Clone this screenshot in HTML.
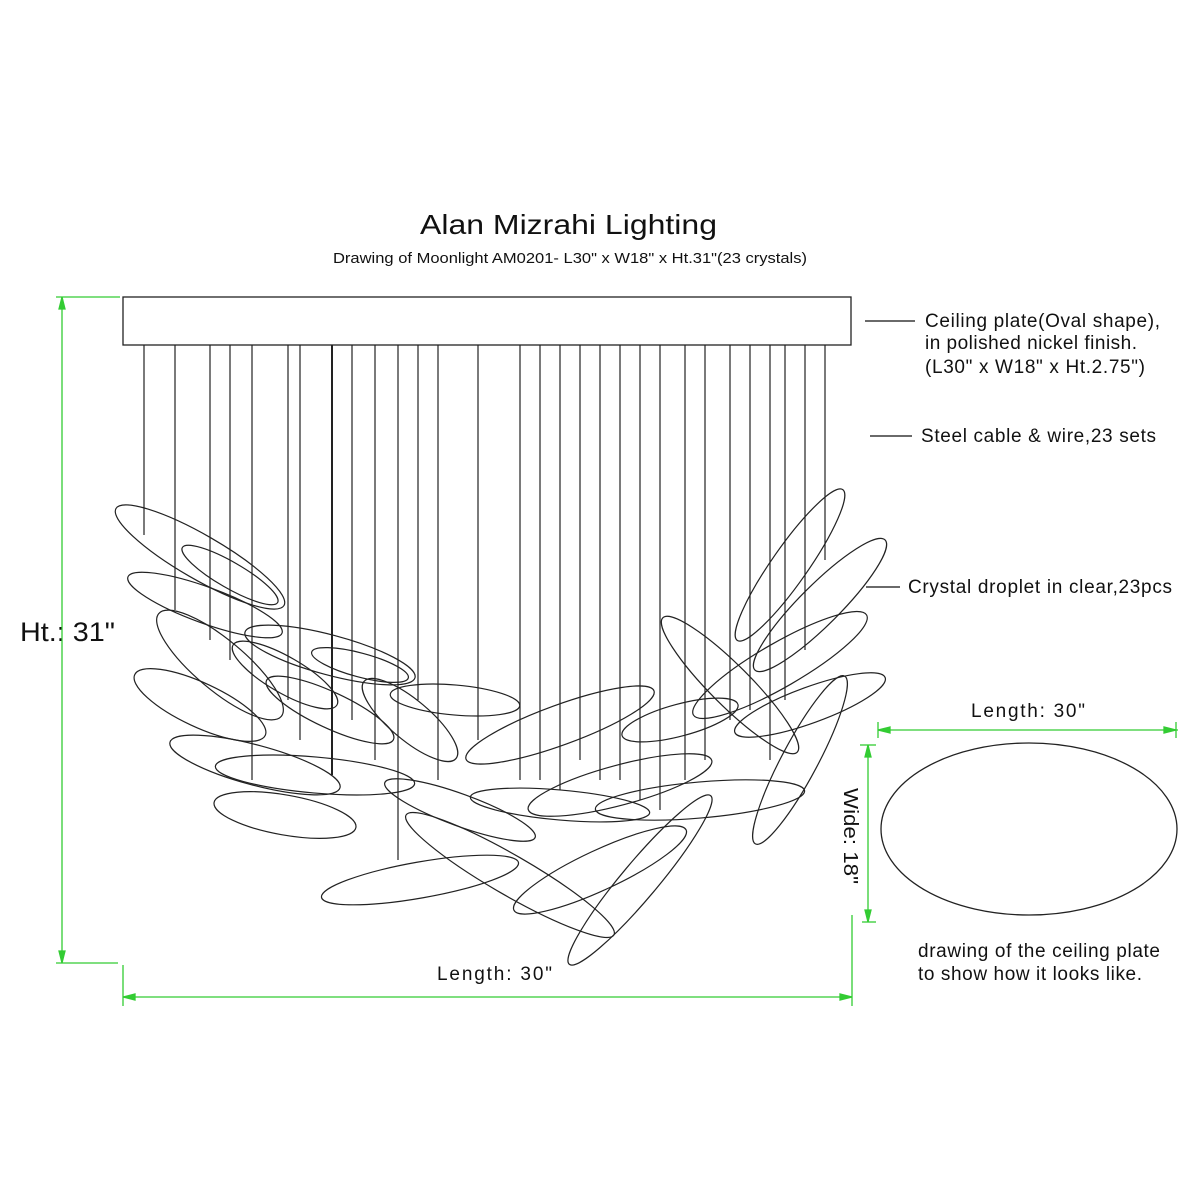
<!DOCTYPE html>
<html><head><style>body{margin:0;background:#fff}svg{display:block}</style></head><body>
<svg width="1200" height="1200" viewBox="0 0 1200 1200" xmlns="http://www.w3.org/2000/svg" font-family="Liberation Sans, Arial, sans-serif">
<rect width="1200" height="1200" fill="#fff"/>
<text x="420" y="234" font-size="28" textLength="297" lengthAdjust="spacingAndGlyphs" fill="#111">Alan Mizrahi Lighting</text>
<text x="333" y="263" font-size="15" textLength="474" lengthAdjust="spacingAndGlyphs" fill="#111">Drawing of Moonlight AM0201- L30" x W18" x Ht.31"(23 crystals)</text>
<rect x="123" y="297" width="728" height="48" fill="none" stroke="#222" stroke-width="1.3"/>
<g stroke="#222" stroke-width="1.2">
<line x1="144" y1="345" x2="144" y2="535"/><line x1="175" y1="345" x2="175" y2="610"/>
<line x1="210" y1="345" x2="210" y2="640"/><line x1="230" y1="345" x2="230" y2="660"/>
<line x1="252" y1="345" x2="252" y2="780"/><line x1="288" y1="345" x2="288" y2="700"/>
<line x1="300" y1="345" x2="300" y2="740"/><line x1="332" y1="345" x2="332" y2="775" stroke-width="2"/>
<line x1="352" y1="345" x2="352" y2="720"/><line x1="375" y1="345" x2="375" y2="760"/>
<line x1="398" y1="345" x2="398" y2="860"/><line x1="418" y1="345" x2="418" y2="700"/>
<line x1="438" y1="345" x2="438" y2="780"/><line x1="478" y1="345" x2="478" y2="740"/>
<line x1="520" y1="345" x2="520" y2="780"/><line x1="540" y1="345" x2="540" y2="780"/>
<line x1="560" y1="345" x2="560" y2="790"/><line x1="580" y1="345" x2="580" y2="760"/>
<line x1="600" y1="345" x2="600" y2="780"/><line x1="620" y1="345" x2="620" y2="780"/>
<line x1="640" y1="345" x2="640" y2="800"/><line x1="660" y1="345" x2="660" y2="810"/>
<line x1="685" y1="345" x2="685" y2="780"/><line x1="705" y1="345" x2="705" y2="760"/>
<line x1="730" y1="345" x2="730" y2="720"/><line x1="750" y1="345" x2="750" y2="710"/>
<line x1="770" y1="345" x2="770" y2="760"/><line x1="785" y1="345" x2="785" y2="700"/>
<line x1="805" y1="345" x2="805" y2="650"/><line x1="825" y1="345" x2="825" y2="560"/>
</g>
<g fill="none" stroke="#222" stroke-width="1.2">
<ellipse cx="200" cy="557" rx="97" ry="22" transform="rotate(30 200 557)"/>
<ellipse cx="230" cy="575" rx="55" ry="13" transform="rotate(30 230 575)"/>
<ellipse cx="205" cy="605" rx="82" ry="18" transform="rotate(20 205 605)"/>
<ellipse cx="220" cy="665" rx="80" ry="25" transform="rotate(40 220 665)"/>
<ellipse cx="330" cy="655" rx="88" ry="20" transform="rotate(15 330 655)"/>
<ellipse cx="360" cy="665" rx="50" ry="12" transform="rotate(15 360 665)"/>
<ellipse cx="200" cy="705" rx="72" ry="22" transform="rotate(25 200 705)"/>
<ellipse cx="285" cy="675" rx="60" ry="18" transform="rotate(30 285 675)"/>
<ellipse cx="255" cy="765" rx="88" ry="20" transform="rotate(15 255 765)"/>
<ellipse cx="315" cy="775" rx="100" ry="18" transform="rotate(5 315 775)"/>
<ellipse cx="285" cy="815" rx="72" ry="20" transform="rotate(10 285 815)"/>
<ellipse cx="330" cy="710" rx="70" ry="18" transform="rotate(25 330 710)"/>
<ellipse cx="410" cy="720" rx="60" ry="20" transform="rotate(40 410 720)"/>
<ellipse cx="455" cy="700" rx="65" ry="15" transform="rotate(5 455 700)"/>
<ellipse cx="420" cy="880" rx="100" ry="18" transform="rotate(-10 420 880)"/>
<ellipse cx="510" cy="875" rx="120" ry="20" transform="rotate(30 510 875)"/>
<ellipse cx="460" cy="810" rx="80" ry="16" transform="rotate(20 460 810)"/>
<ellipse cx="640" cy="880" rx="110" ry="18" transform="rotate(-50 640 880)"/>
<ellipse cx="600" cy="870" rx="95" ry="20" transform="rotate(-25 600 870)"/>
<ellipse cx="790" cy="565" rx="92" ry="18" transform="rotate(-55 790 565)"/>
<ellipse cx="820" cy="605" rx="92" ry="20" transform="rotate(-45 820 605)"/>
<ellipse cx="780" cy="665" rx="100" ry="22" transform="rotate(-30 780 665)"/>
<ellipse cx="730" cy="685" rx="95" ry="20" transform="rotate(45 730 685)"/>
<ellipse cx="810" cy="705" rx="80" ry="18" transform="rotate(-20 810 705)"/>
<ellipse cx="800" cy="760" rx="95" ry="18" transform="rotate(-62 800 760)"/>
<ellipse cx="560" cy="725" rx="100" ry="20" transform="rotate(-20 560 725)"/>
<ellipse cx="620" cy="785" rx="95" ry="20" transform="rotate(-15 620 785)"/>
<ellipse cx="700" cy="800" rx="105" ry="18" transform="rotate(-5 700 800)"/>
<ellipse cx="560" cy="805" rx="90" ry="15" transform="rotate(5 560 805)"/>
<ellipse cx="680" cy="720" rx="60" ry="16" transform="rotate(-15 680 720)"/>
</g>
<g stroke="#111" stroke-width="1.2">
<line x1="865" y1="321" x2="915" y2="321"/><line x1="870" y1="436" x2="912" y2="436"/><line x1="866" y1="587" x2="900" y2="587"/>
</g>
<g font-size="19" fill="#111" lengthAdjust="spacingAndGlyphs">
<text x="925" y="327" textLength="235">Ceiling plate(Oval shape),</text>
<text x="925" y="349" textLength="212">in polished nickel finish.</text>
<text x="925" y="373" textLength="220">(L30" x W18" x Ht.2.75")</text>
<text x="921" y="442" textLength="235">Steel cable &amp; wire,23 sets</text>
<text x="908" y="593" textLength="264">Crystal droplet in clear,23pcs</text>
<text x="971" y="717" textLength="114">Length: 30"</text>
<text x="918" y="957" textLength="242">drawing of the ceiling plate</text>
<text x="918" y="980" textLength="224">to show how it looks like.</text>
<text x="437" y="980" textLength="115">Length: 30"</text>
</g>
<text x="20" y="641" font-size="27" textLength="95" lengthAdjust="spacingAndGlyphs" fill="#111">Ht.: 31"</text>
<text transform="translate(844,788) rotate(90)" font-size="20" textLength="96" lengthAdjust="spacingAndGlyphs" fill="#111">Wide: 18"</text>
<ellipse cx="1029" cy="829" rx="148" ry="86" fill="none" stroke="#222" stroke-width="1.3"/>
<g stroke="#3c3" stroke-width="1.3" fill="#3c3">
<line x1="56" y1="297" x2="120" y2="297"/><line x1="62" y1="297" x2="62" y2="963"/>
<line x1="56" y1="963" x2="118" y2="963"/><line x1="123" y1="965" x2="123" y2="1006"/>
<line x1="123" y1="997" x2="852" y2="997"/><line x1="852" y1="915" x2="852" y2="1006"/>
<polygon points="62,297 59,309 65,309"/><polygon points="62,963 59,951 65,951"/>
<polygon points="123,997 135,994 135,1000"/><polygon points="852,997 840,994 840,1000"/>
<line x1="878" y1="730" x2="1178" y2="730"/><line x1="878" y1="722" x2="878" y2="738"/><line x1="1176" y1="722" x2="1176" y2="738"/>
<polygon points="878,730 890,727 890,733"/><polygon points="1176,730 1164,727 1164,733"/>
<line x1="868" y1="745" x2="868" y2="922"/><line x1="860" y1="745" x2="876" y2="745"/><line x1="862" y1="922" x2="876" y2="922"/>
<polygon points="868,745 865,757 871,757"/><polygon points="868,922 865,910 871,910"/>
</g>
</svg>
</body></html>
